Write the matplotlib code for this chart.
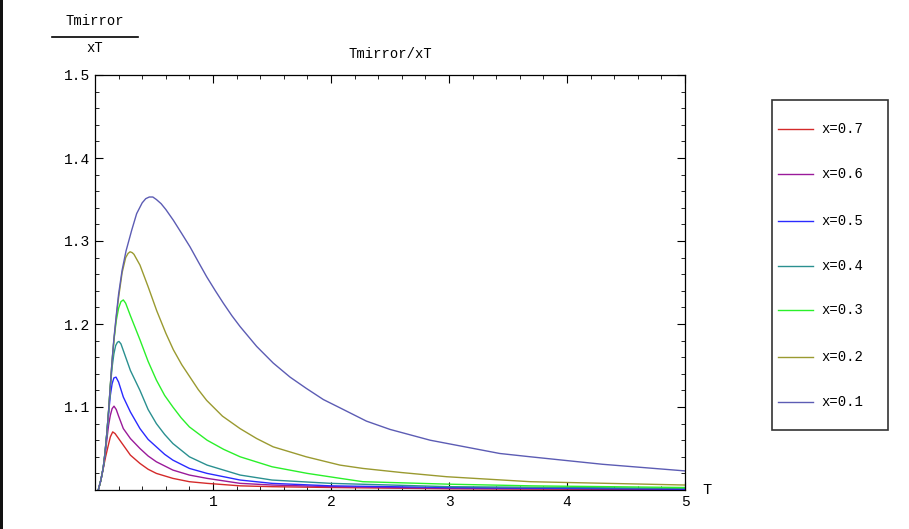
import matplotlib
matplotlib.use("Agg")
import matplotlib.pyplot as plt
from matplotlib.ticker import MultipleLocator, FixedLocator
from matplotlib.lines import Line2D
from matplotlib.patches import Rectangle

# ---- data ----
labels = ["x=0.7", "x=0.6", "x=0.5", "x=0.4", "x=0.3", "x=0.2", "x=0.1"]
colors = ["#d42a2a", "#9a1a9a", "#2a2aff", "#2a9090", "#2af02a", "#9a9a30", "#5c5cb4"]

T_07 = [0.028, 0.05, 0.07, 0.09, 0.113, 0.13, 0.15, 0.17, 0.2, 0.24, 0.3, 0.381, 0.45, 0.52, 0.66, 0.8, 0.95, 1.23, 1.5, 2.0, 3.0, 4.0, 5.0]
V_07 = [1.0, 1.012, 1.026, 1.040, 1.054, 1.064, 1.070, 1.068, 1.062, 1.054, 1.042, 1.032, 1.025, 1.020, 1.014, 1.010, 1.008, 1.005, 1.004, 1.003, 1.0015, 1.001, 1.0005]

T_06 = [0.028, 0.05, 0.07, 0.085, 0.1, 0.115, 0.13, 0.145, 0.161, 0.18, 0.2, 0.24, 0.3, 0.381, 0.45, 0.52, 0.66, 0.8, 0.95, 1.23, 1.5, 2.0, 3.0, 4.0, 5.0]
V_06 = [1.0, 1.012, 1.027, 1.042, 1.060, 1.078, 1.090, 1.098, 1.101, 1.097, 1.089, 1.074, 1.062, 1.050, 1.041, 1.034, 1.024, 1.018, 1.014, 1.008, 1.006, 1.004, 1.002, 1.0015, 1.001]

T_05 = [0.028, 0.05, 0.07, 0.085, 0.1, 0.115, 0.13, 0.145, 0.16, 0.178, 0.2, 0.24, 0.3, 0.381, 0.45, 0.52, 0.59, 0.66, 0.8, 0.95, 1.23, 1.5, 2.0, 3.0, 4.0, 5.0]
V_05 = [1.0, 1.012, 1.027, 1.044, 1.066, 1.092, 1.114, 1.128, 1.135, 1.136, 1.130, 1.112, 1.094, 1.074, 1.061, 1.052, 1.043, 1.036, 1.026, 1.020, 1.012, 1.008, 1.005, 1.003, 1.002, 1.001]

T_04 = [0.028, 0.05, 0.07, 0.085, 0.1, 0.115, 0.13, 0.145, 0.16, 0.175, 0.19, 0.203, 0.22, 0.25, 0.3, 0.381, 0.45, 0.52, 0.59, 0.66, 0.8, 0.95, 1.23, 1.5, 2.0, 3.0, 4.0, 5.0]
V_04 = [1.0, 1.012, 1.027, 1.045, 1.068, 1.094, 1.124, 1.148, 1.164, 1.174, 1.178, 1.179, 1.176, 1.164, 1.144, 1.120, 1.097, 1.080, 1.067, 1.056, 1.040, 1.030, 1.018, 1.012, 1.008, 1.004, 1.003, 1.002]

T_03 = [0.028, 0.05, 0.07, 0.085, 0.1, 0.115, 0.13, 0.145, 0.16, 0.18, 0.2, 0.22, 0.24, 0.26, 0.3, 0.381, 0.45, 0.52, 0.59, 0.66, 0.73, 0.8, 0.95, 1.09, 1.23, 1.5, 1.8, 2.08, 2.27, 3.0, 3.7, 5.0]
V_03 = [1.0, 1.012, 1.027, 1.045, 1.068, 1.095, 1.126, 1.155, 1.180, 1.204, 1.219, 1.227, 1.229, 1.225, 1.210, 1.181, 1.155, 1.1325, 1.114, 1.100, 1.087, 1.076, 1.060, 1.049, 1.040, 1.028, 1.020, 1.014, 1.010, 1.007, 1.005, 1.003]

T_02 = [0.028, 0.05, 0.07, 0.085, 0.1, 0.115, 0.13, 0.145, 0.16, 0.18, 0.2, 0.23, 0.26, 0.28, 0.297, 0.315, 0.33, 0.381, 0.45, 0.523, 0.6, 0.664, 0.735, 0.805, 0.875, 0.946, 1.08, 1.229, 1.37, 1.51, 1.79, 2.076, 2.27, 2.6, 2.98, 3.69, 5.0]
V_02 = [1.0, 1.012, 1.027, 1.045, 1.068, 1.095, 1.126, 1.156, 1.180, 1.208, 1.232, 1.262, 1.280, 1.285, 1.287, 1.286, 1.284, 1.271, 1.245, 1.216, 1.189, 1.169, 1.151, 1.136, 1.121, 1.108, 1.089, 1.074, 1.062, 1.052, 1.040, 1.030, 1.026, 1.021, 1.016, 1.010, 1.006]

T_01 = [0.028, 0.05, 0.07, 0.085, 0.1, 0.115, 0.13, 0.145, 0.16, 0.18, 0.2, 0.23, 0.263, 0.311, 0.353, 0.4, 0.43, 0.46, 0.49, 0.52, 0.56, 0.6, 0.664, 0.735, 0.805, 0.875, 0.946, 1.02, 1.088, 1.16, 1.229, 1.37, 1.51, 1.653, 1.79, 1.935, 2.076, 2.3, 2.5, 2.84, 3.43, 3.69, 4.3, 5.0]
V_01 = [1.0, 1.012, 1.027, 1.045, 1.068, 1.095, 1.126, 1.156, 1.182, 1.210, 1.236, 1.265, 1.288, 1.313, 1.333, 1.346, 1.351, 1.353, 1.353, 1.350, 1.345, 1.338, 1.325, 1.309, 1.293, 1.275, 1.257, 1.240, 1.225, 1.210, 1.197, 1.173, 1.153, 1.136, 1.1225, 1.109, 1.099, 1.083, 1.073, 1.060, 1.044, 1.040, 1.031, 1.023]

series_T = [T_07, T_06, T_05, T_04, T_03, T_02, T_01]
series_V = [V_07, V_06, V_05, V_04, V_03, V_02, V_01]

x_ticks = [1, 2, 3, 4, 5]
y_ticks = [1.1, 1.2, 1.3, 1.4, 1.5]
y_ticklabels = ["1.1", "1.2", "1.3", "1.4", "1.5"]

MONO = "Liberation Mono"

W, H = 909, 529
fig = plt.figure(figsize=(W / 100, H / 100), dpi=100)
fig.patch.set_facecolor("white")

ax = fig.add_axes([95 / W, (H - 490) / H, 590 / W, 415 / H])
for T, V, c in zip(series_T, series_V, colors):
    ax.plot(T, V, color=c, lw=1.0)

ax.set_xlim(0, 5)
ax.set_ylim(1.0, 1.5)
ax.xaxis.set_major_locator(FixedLocator(x_ticks))
ax.xaxis.set_minor_locator(MultipleLocator(0.2))
ax.yaxis.set_major_locator(FixedLocator(y_ticks))
ax.yaxis.set_minor_locator(MultipleLocator(0.02))
ax.set_xticklabels([str(v) for v in x_ticks])
ax.set_yticklabels(y_ticklabels)
ax.tick_params(which="both", direction="in", top=True, right=True, colors="black")
ax.tick_params(which="major", length=6, width=0.8, labelsize=10.5)
ax.tick_params(which="minor", length=3, width=0.6)
for lab in ax.get_xticklabels() + ax.get_yticklabels():
    lab.set_fontfamily(MONO)
for s in ax.spines.values():
    s.set_linewidth(0.9)

ax.set_title("Tmirror/xT", fontfamily=MONO, fontsize=10, pad=12)

# fraction style y label
fig.text(95 / W, 1 - 21 / H, "Tmirror", fontfamily=MONO, fontsize=10, ha="center", va="center")
fig.text(95 / W, 1 - 48 / H, "xT", fontfamily=MONO, fontsize=10, ha="center", va="center")
fig.add_artist(Line2D([52 / W, 138 / W], [1 - 37 / H, 1 - 37 / H], color="black", lw=1.2))

# x label
fig.text(707 / W, 1 - 490 / H, "T", fontfamily=MONO, fontsize=11, ha="center", va="center")

# legend box
fig.add_artist(Rectangle((772 / W, 1 - 430 / H), 116 / W, 330 / H, fill=False, ec="#333333", lw=1.2))
ys = [129, 174, 221, 266, 310, 357, 402]
for y, lab, c in zip(ys, labels, colors):
    fig.add_artist(Line2D([778 / W, 813 / W], [1 - y / H, 1 - y / H], color=c, lw=1.0))
    fig.text(821 / W, 1 - y / H, lab, fontfamily=MONO, fontsize=10, ha="left", va="center")

# left dark edge as in the screenshot
fig.add_artist(Rectangle((0, 0), 2.5 / W, 1, color="#111111", lw=0))

fig.savefig("out.png", dpi=100)
